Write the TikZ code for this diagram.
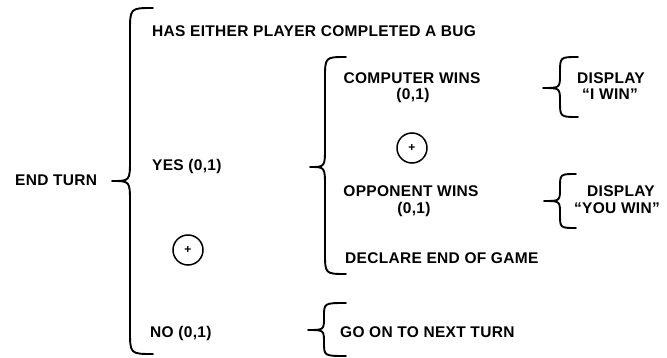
\documentclass[tikz,border=0pt]{standalone}
\usepackage{fontspec}
\setmainfont{Liberation Sans}
\newfontfamily\lblfont[LetterSpace=2]{Liberation Sans}
\newcommand\drawbrace[8]{%
  \draw[bracestroke] (#1,#4) .. controls (#2,#4) .. (#2,#4+#7) -- (#2,#5-#8)
    .. controls (#2,#5) .. (#3,#5) .. controls (#2,#5) .. (#2,#5+#8)
    -- (#2,#6-#7) .. controls (#2,#6) .. (#1,#6);}
\begin{document}
\begin{tikzpicture}[x=1pt,y=-1pt,
  bracestroke/.style={line width=1.9pt,line cap=round,line join=round},
  lbl/.style={inner sep=0pt,font=\lblfont\fontsize{15.5}{17}\selectfont\bfseries},
  circ/.style={circle,draw,line width=1.5pt,minimum size=30pt,inner sep=0pt,font=\fontsize{12}{12}\selectfont\bfseries}]
\useasboundingbox (0,0) rectangle (667,358);
% braces
\drawbrace{153}{130}{112}{8}{181}{354}{24}{22}
\drawbrace{346}{325}{310}{57}{167}{274}{22}{20}
\drawbrace{346}{324}{308}{303}{330}{356}{14}{13}
\drawbrace{578}{560}{543}{57}{88}{117}{16}{14}
\drawbrace{576}{560}{544}{174}{201}{228}{14}{13}
% texts
\node[lbl,anchor=base west] (endturn) at (15,186) {END TURN};
\node[lbl,anchor=base west] (has) at (152,37) {HAS EITHER PLAYER COMPLETED A BUG};
\node[lbl,anchor=base west] (yes) at (152,171) {YES (0,1)};
\node[lbl,anchor=base west] (no) at (150,337) {NO (0,1)};
\node[lbl,anchor=base] (comp) at (412,84) {COMPUTER WINS};
\node[lbl,anchor=base] (comp01) at (413,100) {(0,1)};
\node[lbl,anchor=base] (opp) at (411,197) {OPPONENT WINS};
\node[lbl,anchor=base] (opp01) at (414,214) {(0,1)};
\node[lbl,anchor=base] (disp1) at (611,84) {DISPLAY};
\node[lbl,anchor=base] (iwin) at (610,100) {“I WIN”};
\node[lbl,anchor=base] (disp2) at (621,197) {DISPLAY};
\node[lbl,anchor=base] (youwin) at (617,214) {“YOU WIN”};
\node[lbl,anchor=base west] (declare) at (345,264) {DECLARE END OF GAME};
\node[lbl,anchor=base west] (goon) at (340,337) {GO ON TO NEXT TURN};
% circled plus
\node[circ] (orA) at (188,250) {+};
\node[circ] (orB) at (412,148) {+};
\end{tikzpicture}
\end{document}
